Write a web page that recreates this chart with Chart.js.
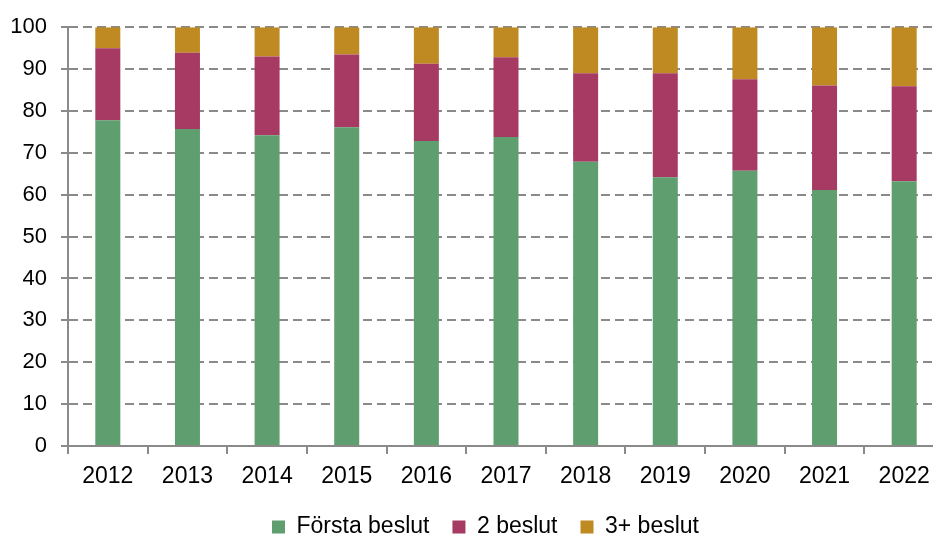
<!DOCTYPE html>
<html>
<head>
<meta charset="utf-8">
<script src="https://cdn.jsdelivr.net/npm/chart.js@4"></script>
<style>
html, body { margin: 0; padding: 0; overflow: hidden; background: #fff; }
#wrap { width: 944px; height: 536px; position: relative; }
</style>
</head>
<body>
<div id="wrap"><canvas id="c" width="944" height="536"></canvas></div>
<script>
const categories = ["2012","2013","2014","2015","2016","2017","2018","2019","2020","2021","2022"];
const forstaBeslut = [77.8, 75.7, 74.2, 76.1, 72.8, 73.8, 67.9, 64.2, 65.7, 61.1, 63.2];
const tvaBeslut    = [17.2, 18.2, 18.8, 17.4, 18.5, 19.0, 21.1, 24.8, 21.9, 25.0, 22.7];
const treBeslut    = [5.0, 6.1, 7.0, 6.5, 8.7, 7.2, 11.0, 11.0, 12.4, 13.9, 14.1];
const seriesNames  = ["Första beslut", "2 beslut", "3+ beslut"];
const yTicks       = [0, 10, 20, 30, 40, 50, 60, 70, 80, 90, 100];

const FONT = "'Liberation Sans', Arial, sans-serif";
const GRID = '#8a8a8a';

const legendShift = {
  id: 'legendShift',
  afterLayout(chart) {
    const l = chart.legend;
    if (l) {
      const dx = 13.5, dy = 12.5;
      l.left += dx; l.right += dx; l.top += dy; l.bottom += dy;
    }
    if (chart.scales.x) chart.scales.x.bottom = chart.height;
  }
};

new Chart(document.getElementById('c'), {
  type: 'bar',
  data: {
    labels: categories,
    datasets: [
      { label: seriesNames[0], data: forstaBeslut, backgroundColor: '#5f9e6e' },
      { label: seriesNames[1], data: tvaBeslut, backgroundColor: '#a63a63' },
      { label: seriesNames[2], data: treBeslut, backgroundColor: '#bf8a22' }
    ]
  },
  options: {
    responsive: false,
    animation: false,
    devicePixelRatio: 1,
    layout: { padding: { top: 26, left: 0, right: 0, bottom: 0 } },
    datasets: { bar: { categoryPercentage: 1, barPercentage: 0.314, borderWidth: 0 } },
    plugins: {
      tooltip: { enabled: false },
      legend: {
        position: 'bottom',
        labels: {
          font: { family: FONT, size: 23 },
          color: '#000',
          boxWidth: 13,
          boxHeight: 13,
          padding: 23
        }
      }
    },
    scales: {
      x: {
        stacked: true,
        offset: true,
        afterFit(s) { s.height = 536 - 446 - (s.chart.legend ? s.chart.legend.height : 0); },
        grid: { drawOnChartArea: false, offset: true, color: GRID, lineWidth: 2, tickLength: 8 },
        border: { color: GRID, width: 2 },
        ticks: { font: { family: FONT, size: 23 }, color: '#000', padding: 9, maxRotation: 0 }
      },
      y: {
        stacked: true,
        min: 0,
        max: 100,
        afterFit(s) { s.width = 68; },
        afterBuildTicks(s) { s.ticks = yTicks.map(v => ({ value: v })); },
        grid: { color: GRID, lineWidth: 2, tickLength: 7, tickBorderDash: [] },
        border: { color: GRID, width: 2, dash: [9, 5] },
        ticks: { font: { family: FONT, size: 22 }, color: '#000', padding: 14 }
      }
    }
  },
  plugins: [legendShift]
});
</script>
</body>
</html>
